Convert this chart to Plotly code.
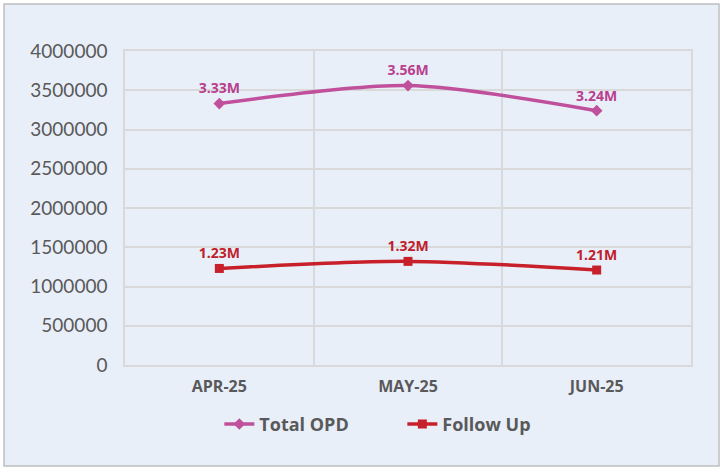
import plotly.graph_objects as go

months = ["APR-25", "MAY-25", "JUN-25"]
total_opd = [3330000, 3560000, 3240000]
follow_up = [1230000, 1320000, 1210000]
total_labels = ["3.33M", "3.56M", "3.24M"]
follow_labels = ["1.23M", "1.32M", "1.21M"]

pink = "#C0509C"
red = "#C8202A"
bg = "#E9EFF9"
grid = "#D9D9D9"

fig = go.Figure()
fig.add_trace(go.Scatter(
    x=months, y=total_opd, name="Total OPD", mode="lines+markers+text",
    line=dict(color=pink, width=3.5, shape="spline", smoothing=0.8),
    marker=dict(symbol="diamond", size=9, color=pink),
    text=total_labels, textposition="top center",
    textfont=dict(family="Open Sans", size=14, color="#B8408E", weight="bold"),
))
fig.add_trace(go.Scatter(
    x=months, y=follow_up, name="Follow Up", mode="lines+markers+text",
    line=dict(color=red, width=3.5, shape="spline", smoothing=0.8),
    marker=dict(symbol="square", size=9, color=red),
    text=follow_labels, textposition="top center",
    textfont=dict(family="Open Sans", size=14, color="#C0202A", weight="bold"),
))

# outer frame of the chart
fig.add_shape(type="rect", xref="paper", yref="paper",
              x0=-0.2138, x1=1.0495, y0=-0.3217, y1=1.1497,
              line=dict(color="#BFBFBF", width=1.5), fillcolor=bg, layer="below")

fig.update_layout(
    width=721, height=468,
    margin=dict(l=125, r=30, t=51, b=103),
    paper_bgcolor="white", plot_bgcolor=bg,
    font=dict(family="Lato", color="#595959"),
    showlegend=True,
    legend=dict(orientation="h", x=0.49, xanchor="center", y=-0.13, yanchor="top",
                font=dict(family="Open Sans", size=18, color="#595959", weight="bold"),
                bgcolor="rgba(0,0,0,0)", itemwidth=30,
                entrywidth=138, entrywidthmode="pixels"),
    xaxis=dict(tickson="boundaries", showgrid=True, gridcolor=grid, gridwidth=1.5,
               showline=True, linecolor=grid, linewidth=1.5, mirror=True,
               ticks="", ticklabelstandoff=6,
               tickfont=dict(family="Open Sans", size=16, color="#595959", weight="bold"),
               range=[-0.5, 2.5]),
    yaxis=dict(range=[0, 4000000], dtick=500000, tickformat="d",
               showgrid=True, gridcolor=grid, gridwidth=2,
               showline=True, linecolor=grid, linewidth=1.5, mirror=True,
               zeroline=False, ticks="", ticklabelstandoff=12,
               tickfont=dict(size=19, color="#595959")),
)

fig.write_html("out.html", config={"displayModeBar": False},
               post_script="document.body.style.margin='0';")
